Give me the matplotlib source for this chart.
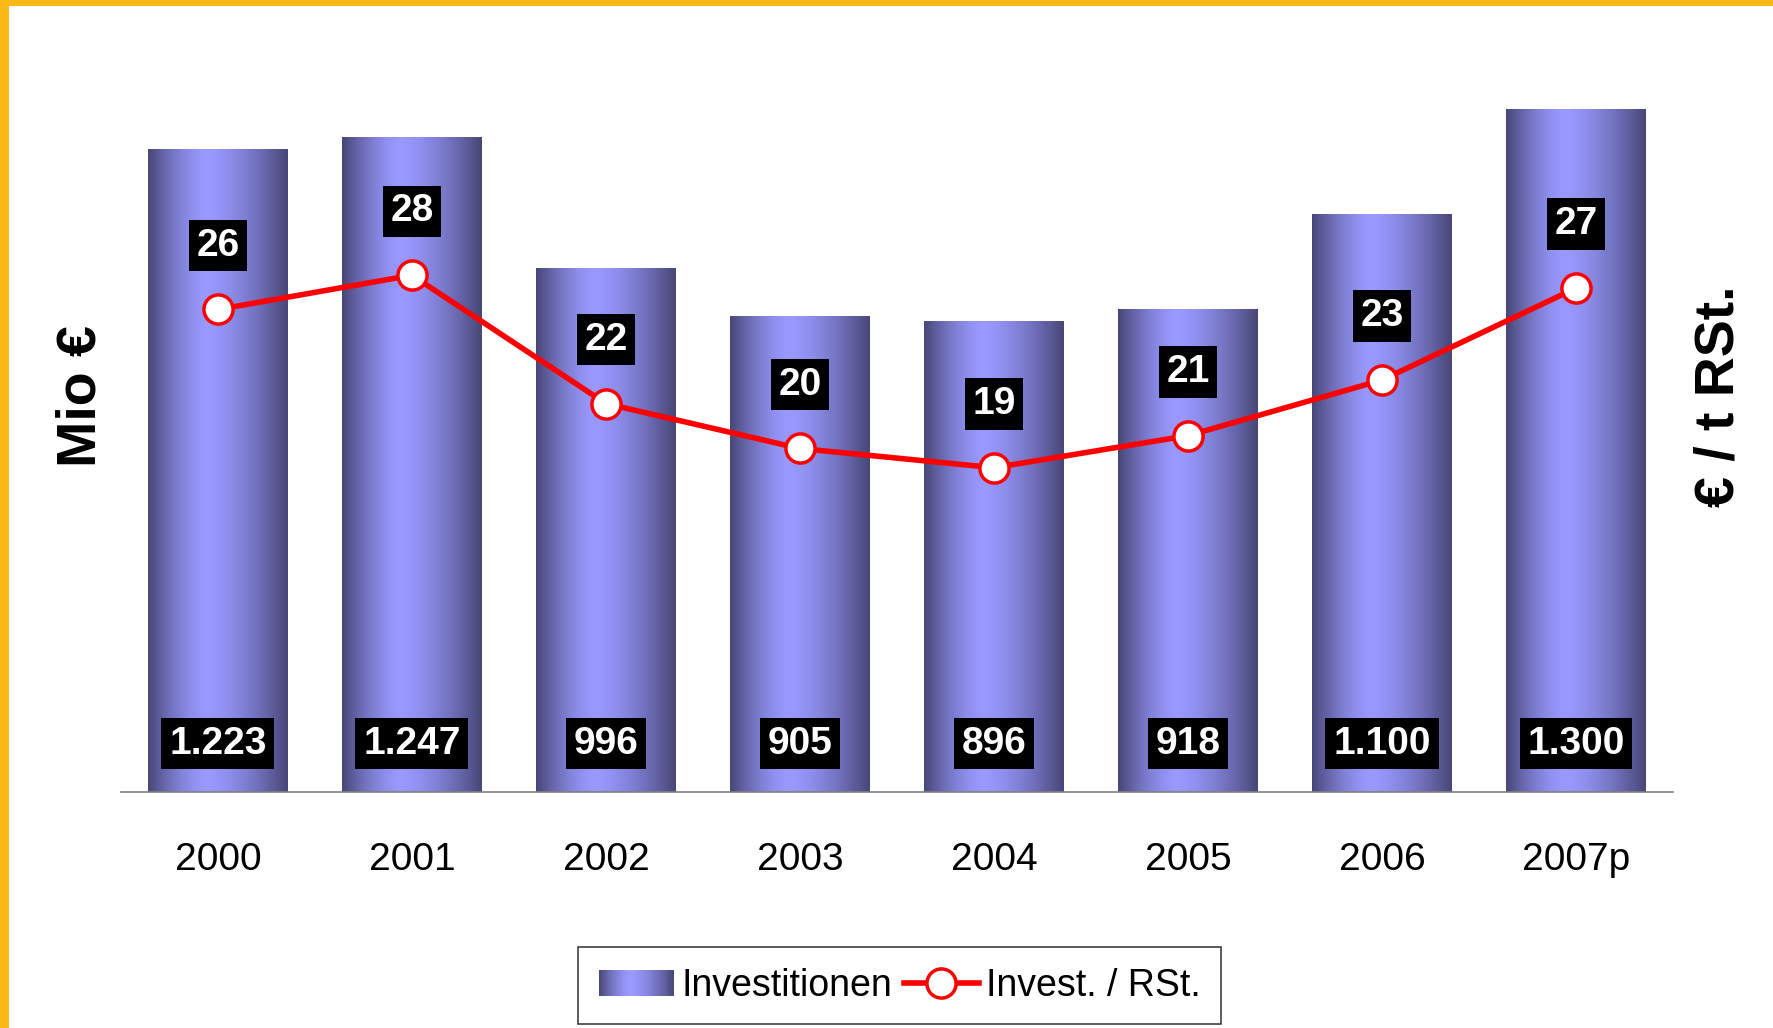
import matplotlib
matplotlib.use("Agg")
import matplotlib.pyplot as plt
import numpy as np
from matplotlib.patches import Rectangle
from matplotlib.legend_handler import HandlerBase
from matplotlib.lines import Line2D

# data
years = ["2000", "2001", "2002", "2003", "2004", "2005", "2006", "2007p"]
invest = [1223, 1247, 996, 905, 896, 918, 1100, 1300]
invest_labels = ["1.223", "1.247", "996", "905", "896", "918", "1.100", "1.300"]
per_rst = [26.4, 28.0, 22.0, 19.9, 19.0, 20.5, 23.1, 27.4]
per_rst_labels = ["26", "28", "22", "20", "19", "21", "23", "27"]

FONT = ["Liberation Sans", "DejaVu Sans"]
DARK = np.array([0x46, 0x46, 0x76]) / 255
LIGHT = np.array([0x99, 0x99, 0xff]) / 255


def gradient_colors(n):
    """ Horizontal shading of the bars: dark edges, light band left of centre. """
    t = (np.arange(n) + 0.5) / n
    d = np.where(t < 0.42, (0.42 - t) / 0.42, (t - 0.42) / 0.58)
    s = 1 - d ** 1.5
    return DARK + (LIGHT - DARK) * s[:, None]


class GradientHandler(HandlerBase):
    def create_artists(self, legend, orig_handle, xdescent, ydescent,
                       width, height, fontsize, trans):
        n = 40
        cols = gradient_colors(n)
        arts = []
        for i in range(n):
            r = Rectangle((-xdescent + i * width / n, -ydescent), width / n * 1.05, height,
                          facecolor=cols[i], edgecolor="none", transform=trans)
            arts.append(r)
        return arts


fig = plt.figure(figsize=(17.73, 10.28), dpi=100)
ax = fig.add_axes([0.0682, 0.2296, 0.8754, 0.7315])
ax2 = ax.twinx()

x = np.arange(len(years))
bars = ax.bar(x, invest, width=0.72, facecolor="none", edgecolor="none", zorder=2)
img = gradient_colors(256)[None, :, :]
for b in bars:
    x0, w, h = b.get_x(), b.get_width(), b.get_height()
    ax.imshow(img, extent=(x0, x0 + w, 0, h), aspect="auto", zorder=2, interpolation="bilinear")

for xi, lab in zip(x, invest_labels):
    ax.text(xi, 92, lab, ha="center", va="center", color="white", fontsize=28,
            fontweight="bold", family=FONT, zorder=5,
            bbox=dict(boxstyle="square,pad=0.2", fc="black", ec="none"))

ax.set_xlim(-0.5, len(years) - 0.5)
ax.set_ylim(0, 1432)
ax.set_xticks(x)
ax.set_xticklabels(years, fontsize=28, family=FONT)
ax.tick_params(axis="x", length=0, pad=36)
ax.set_yticks([])
for s in ["top", "left", "right"]:
    ax.spines[s].set_visible(False)
ax.spines["bottom"].set_color("#808080")
ax.spines["bottom"].set_linewidth(1.2)
ax.spines["bottom"].set_zorder(3)

ax2.plot(x, per_rst, color="#ff0000", lw=4, marker="o", markersize=21,
         markerfacecolor="white", markeredgecolor="#ff0000", markeredgewidth=2.5, zorder=4)
for xi, v, lab in zip(x, per_rst, per_rst_labels):
    ax2.annotate(lab, (xi, v), xytext=(0, 46), textcoords="offset points",
                 ha="center", va="center", color="white", fontsize=28,
                 fontweight="bold", family=FONT, zorder=5,
                 bbox=dict(boxstyle="square,pad=0.2", fc="black", ec="none"))
ax2.set_ylim(3.84, 39.0)
ax2.set_yticks([])
for s in ax2.spines.values():
    s.set_visible(False)

fig.text(0.046, 0.615, "Mio €", rotation=90, ha="center", va="center",
         fontsize=40, fontweight="bold", family=FONT)
fig.text(0.970, 0.615, "€ / t RSt.", rotation=90, ha="center", va="center",
         fontsize=40, fontweight="bold", family=FONT)

# legend
proxy = Rectangle((0, 0), 1, 1)
line_h = Line2D([], [], color="#ff0000", lw=4, marker="o", markersize=21,
                markerfacecolor="white", markeredgecolor="#ff0000", markeredgewidth=2.5)
leg = fig.legend([proxy, line_h], ["Investitionen", "Invest. / RSt."],
                 handler_map={proxy: GradientHandler()}, ncol=2,
                 loc="center", bbox_to_anchor=(0.5076, 0.041),
                 prop={"family": FONT, "size": 27}, fancybox=False,
                 edgecolor="#404040", framealpha=1, handlelength=2.0,
                 handletextpad=0.2, columnspacing=0.3, borderpad=0.55,
                 borderaxespad=0, numpoints=1)
leg.get_frame().set_linewidth(1.2)

# orange frame on top and left
fig.patches.append(Rectangle((0, 1 - 6 / 1028), 1, 6 / 1028, transform=fig.transFigure,
                             facecolor="#fdb913", edgecolor="none", zorder=10))
fig.patches.append(Rectangle((0, 0), 8.5 / 1773, 1, transform=fig.transFigure,
                             facecolor="#fdb913", edgecolor="none", zorder=10))

fig.savefig("out.png", dpi=100)
